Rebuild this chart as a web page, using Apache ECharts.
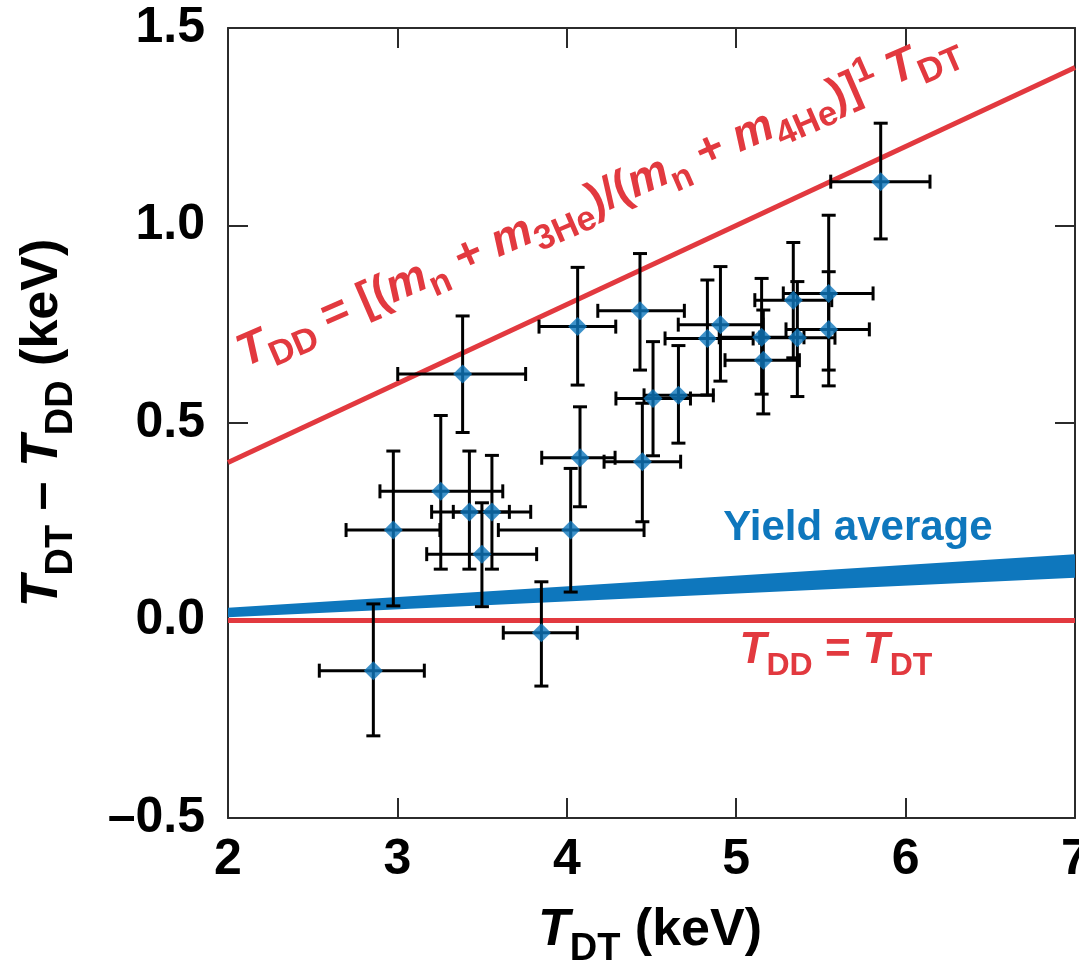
<!DOCTYPE html>
<html>
<head>
<meta charset="utf-8">
<script src="https://cdn.jsdelivr.net/npm/echarts@6/dist/echarts.min.js"></script>
<style>
  html, body { margin: 0; padding: 0; background: #fff; }
  #chart { width: 1079px; height: 973px; }
</style>
</head>
<body>
<div id="chart"></div>
<script>
// data points: T_DT (x), T_DT - T_DD (y) and their error bar ends
const ptX = [2.858, 2.976, 3.256, 3.425, 3.558, 3.499, 3.385, 3.850, 4.023, 4.064, 4.078, 4.432,
  4.446, 4.509, 4.659, 4.830, 4.907, 5.150, 5.160, 5.337, 5.361, 5.546, 5.546, 5.853];
const ptY = [-0.127, 0.229, 0.327, 0.275, 0.275, 0.168, 0.624, -0.031, 0.229, 0.744, 0.412, 0.784,
  0.402, 0.562, 0.570, 0.714, 0.749, 0.717, 0.659, 0.811, 0.716, 0.828, 0.737, 1.111];
const xLo = [2.539, 2.697, 2.897, 3.202, 3.330, 3.173, 3.002, 3.625, 3.596, 3.836, 3.852, 4.183,
  4.220, 4.290, 4.456, 4.580, 4.658, 4.900, 4.934, 5.110, 5.139, 5.278, 5.294, 5.558];
const xHi = [3.159, 3.251, 3.622, 3.661, 3.787, 3.822, 3.757, 4.062, 4.456, 4.289, 4.285, 4.694,
  4.672, 4.730, 4.865, 5.100, 5.158, 5.400, 5.373, 5.564, 5.583, 5.808, 5.786, 6.144];
const yLo = [-0.292, 0.037, 0.130, 0.130, 0.130, 0.035, 0.476, -0.166, 0.072, 0.596, 0.288, 0.634,
  0.250, 0.417, 0.449, 0.571, 0.606, 0.573, 0.523, 0.665, 0.567, 0.634, 0.594, 0.966];
const yHi = [0.042, 0.429, 0.519, 0.429, 0.418, 0.298, 0.771, 0.098, 0.385, 0.894, 0.541, 0.929,
  0.550, 0.706, 0.696, 0.862, 0.896, 0.866, 0.786, 0.957, 0.858, 1.026, 0.883, 1.259];

// reference lines
const lineX = [2, 7];
const massLine = [0.4, 1.4];   // T_DD = 0.8 T_DT
const equalLine = [0, 0];      // T_DD = T_DT

// yield average band
const bandLow = [0.008, 0.108];
const bandHigh = [0.032, 0.168];

const RED = '#E2393F';
const BLUE = '#0E77BD';
const AXIS = '#2b2b2b';
const FONT = '"Liberation Sans", Arial, sans-serif';

const chartsDom = document.getElementById('chart');
const mychart = echarts.init(chartsDom);

function axisBase(extra) {
  return Object.assign({
    type: 'value',
    axisLine: { show: true, onZero: false, lineStyle: { color: AXIS, width: 2 } },
    axisTick: { show: true, inside: true, length: 20, lineStyle: { color: AXIS, width: 2 } },
    splitLine: { show: false },
  }, extra);
}

const tickLabel = {
  color: '#000',
  fontFamily: FONT,
  fontWeight: 'bold',
  fontSize: 50,
};

function yFmt(v) {
  if (v < 0) return '\u2013' + Math.abs(v).toFixed(1);
  return v.toFixed(1);
}

// error bars drawn through the axes' own coordinate mapping
function renderErr(params, api) {
  const x = api.value(0), y = api.value(1);
  const pL = api.coord([api.value(2), y]);
  const pR = api.coord([api.value(3), y]);
  const pB = api.coord([x, api.value(4)]);
  const pT = api.coord([x, api.value(5)]);
  const c = 7;
  const style = { stroke: '#000', lineWidth: 3 };
  const seg = (x1, y1, x2, y2) => ({ type: 'line', shape: { x1, y1, x2, y2 }, style });
  return {
    type: 'group',
    children: [
      seg(pL[0], pL[1], pR[0], pR[1]),
      seg(pL[0], pL[1] - c, pL[0], pL[1] + c),
      seg(pR[0], pR[1] - c, pR[0], pR[1] + c),
      seg(pB[0], pB[1], pT[0], pT[1]),
      seg(pB[0] - c, pB[1], pB[0] + c, pB[1]),
      seg(pT[0] - c, pT[1], pT[0] + c, pT[1]),
    ],
  };
}

function renderBand(params, api) {
  const pts = [];
  for (let i = 0; i < lineX.length; i++) pts.push(api.coord([lineX[i], bandLow[i]]));
  for (let i = lineX.length - 1; i >= 0; i--) pts.push(api.coord([lineX[i], bandHigh[i]]));
  return { type: 'polygon', shape: { points: pts }, style: { fill: BLUE } };
}

const errData = ptX.map((x, i) => [x, ptY[i], xLo[i], xHi[i], yLo[i], yHi[i]]);

// rich styles for labels with italic T and subscripts (zrender uses fill)
function richFor(color, size, subSize, drop) {
  return {
    it: { fill: color, fontFamily: FONT, fontWeight: 'bold', fontStyle: 'italic', fontSize: size, lineHeight: size, verticalAlign: 'bottom', padding: [0, 0, drop, 0] },
    n: { fill: color, fontFamily: FONT, fontWeight: 'bold', fontSize: size, lineHeight: size, verticalAlign: 'bottom', padding: [0, 0, drop, 0] },
    sub: { fill: color, fontFamily: FONT, fontWeight: 'bold', fontSize: subSize, lineHeight: subSize, verticalAlign: 'bottom' },
    sup: { fill: color, fontFamily: FONT, fontWeight: 'bold', fontSize: subSize, lineHeight: subSize, verticalAlign: 'bottom', padding: [0, 0, drop + size * 0.4, 0] },
  };
}

const option = {
  animation: false,
  backgroundColor: '#fff',
  grid: { left: 228, right: 4, top: 28, bottom: 155, outerBoundsMode: 'none' },
  xAxis: [
    axisBase({ min: 2, max: 7, interval: 1, position: 'bottom',
      axisLabel: Object.assign({ margin: 17 }, tickLabel) }),
    axisBase({ min: 2, max: 7, interval: 1, position: 'top', axisLabel: { show: false } }),
  ],
  yAxis: [
    axisBase({ min: -0.5, max: 1.5, interval: 0.5, position: 'left',
      axisLabel: Object.assign({ margin: 23, formatter: yFmt }, tickLabel) }),
    axisBase({ min: -0.5, max: 1.5, interval: 0.5, position: 'right', axisLabel: { show: false } }),
  ],
  series: [
    {
      name: 'Yield average',
      type: 'custom',
      renderItem: renderBand,
      data: [[lineX[0], bandLow[0]]],
      silent: true,
      z: 2,
    },
    {
      name: 'TDD = TDT',
      type: 'line',
      data: lineX.map((x, i) => [x, equalLine[i]]),
      showSymbol: false,
      lineStyle: { color: RED, width: 5 },
      z: 3,
    },
    {
      name: 'mass ratio',
      type: 'line',
      data: lineX.map((x, i) => [x, massLine[i]]),
      showSymbol: false,
      lineStyle: { color: RED, width: 5 },
      z: 3,
    },
    {
      name: 'error',
      type: 'custom',
      renderItem: renderErr,
      data: errData,
      z: 4,
    },
    {
      name: 'shots',
      type: 'scatter',
      data: ptX.map((x, i) => [x, ptY[i]]),
      symbol: 'diamond',
      symbolSize: 19,
      itemStyle: { color: BLUE },
      z: 5,
    },
  ],
  graphic: [
    {
      type: 'text',
      x: 602, y: 208,
      rotation: 23.5 * Math.PI / 180,
      style: {
        text: '{it|T}{sub|DD}{n| = [(}{it|m}{sub|n}{n| + }{it|m}{sub|3He}{n|)/(}{it|m}{sub|n}{n| + }{it|m}{sub|4He}{n|)]}{sup|1}{n| }{it|T}{sub|DT}',
        align: 'center',
        verticalAlign: 'middle',
        rich: richFor(RED, 46, 35, 9),
      },
      z: 10,
    },
    {
      type: 'text',
      x: 858, y: 528,
      style: {
        text: 'Yield average',
        fill: BLUE,
        font: 'bold 42px ' + FONT,
        align: 'center',
        verticalAlign: 'middle',
      },
      z: 10,
    },
    {
      type: 'text',
      x: 836, y: 660,
      style: {
        text: '{it|T}{sub|DD}{n| = }{it|T}{sub|DT}',
        align: 'center',
        verticalAlign: 'middle',
        rich: richFor(RED, 44, 32, 9),
      },
      z: 10,
    },
    {
      type: 'text',
      x: 650, y: 943,
      style: {
        text: '{it|T}{sub|DT}{n| (keV)}',
        align: 'center',
        verticalAlign: 'middle',
        rich: richFor('#000', 52, 38, 12),
      },
    },
    {
      type: 'text',
      x: 55, y: 423,
      rotation: Math.PI / 2,
      style: {
        text: '{it|T}{sub|DT}{n| \u2013 }{it|T}{sub|DD}{n| (keV)}',
        align: 'center',
        verticalAlign: 'middle',
        rich: richFor('#000', 52, 38, 12),
      },
    },
  ],
};

mychart.setOption(option);

window.addEventListener('resize', () => {
  mychart.resize();
});
</script>
</body>
</html>
